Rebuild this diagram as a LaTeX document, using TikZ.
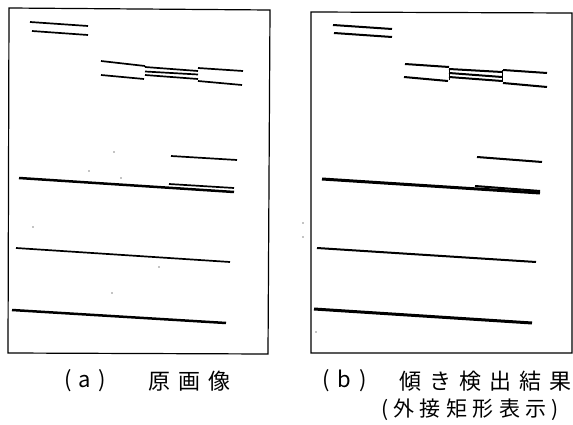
\documentclass[tikz,border=0pt]{standalone}
\usepackage{fontspec}
\newfontfamily\cjk{Noto Sans CJK JP}
\begin{document}
\begin{tikzpicture}[x=1pt,y=-1pt,
  frame/.style={line width=1.2pt},
  seg/.style={line width=1.7pt},
  thickseg/.style={line width=2.5pt},
  bseg/.style={line width=2pt},
  bthick/.style={line width=3pt},
  lbl/.style={inner sep=0pt,anchor=west,font=\cjk\fontsize{22}{24}\selectfont},
  lblsmall/.style={inner sep=0pt,anchor=west,font=\cjk\fontsize{21}{23}\selectfont},
  speck/.style={fill=black,circle,inner sep=0pt,minimum size=1.4pt}]
\useasboundingbox (0,0) rectangle (573,425);
% ---- frames
\coordinate (a1) at (9,8); \coordinate (a2) at (270,10);
\coordinate (a3) at (268,354); \coordinate (a4) at (8,353);
\draw[frame] (a1) -- (a2) -- (a3) -- (a4) -- cycle;
\coordinate (b1) at (311,12); \coordinate (b2) at (572,13);
\coordinate (b3) at (572,353); \coordinate (b4) at (311,353);
\draw[frame] (b1) -- (b2) -- (b3) -- (b4) -- cycle;
% ---- panel (a): original image
\draw[seg] (30,22) -- (88,26);
\draw[seg] (32,31) -- (88,35);
\draw[seg] (101,61) -- (145,66);
\draw[seg] (145,67) -- (198,71);
\draw[seg] (198,68) -- (243,71);
\draw[seg] (145,71.5) -- (198,74.5);
\draw[seg] (145,75) -- (198,79);
\draw[seg] (101,75) -- (144,79);
\draw[seg] (198,81) -- (242,85);
\draw[seg] (171,156) -- (237,160);
\draw[thickseg] (19,178) -- (234,192);
\draw[seg] (169,184) -- (234,188);
\draw[seg] (16,248) -- (230,262);
\draw[thickseg] (12,310) -- (226,323);
\node[speck] (sa1) at (114,152) {};
\node[speck] (sa2) at (89,171) {};
\node[speck] (sa3) at (121,178) {};
\node[speck] (sa4) at (33,227) {};
\node[speck] (sa5) at (159,267) {};
\node[speck] (sa6) at (112,293) {};
\node[speck] (sm1) at (303,223) {};
\node[speck] (sm2) at (303,237) {};
% ---- panel (b): detected inclination (bounding rectangles)
\draw[bseg] (333,25) -- (392,29);
\draw[bseg] (334,33) -- (392,37);
\draw[bseg] (405,64) -- (449,67);
\draw[bseg] (449,69) -- (502,72);
\draw[bseg] (503,70) -- (547,73);
\draw[bseg] (449,73) -- (502,77);
\draw[bseg] (449,77) -- (502,81);
\draw[bseg] (404,77) -- (448,81);
\draw[bseg] (503,83) -- (547,87);
\draw[line width=0.8pt] (502,70) -- (502,82);
\draw[line width=0.8pt] (449,68) -- (449,80);
\draw[bseg] (477,157) -- (542,162);
\draw[bthick] (322,179) -- (540,193);
\draw[bseg] (475,186) -- (540,191);
\draw[bseg] (317,248) -- (536,262);
\draw[bthick] (314,309) -- (532,323);
\node[speck] (sb1) at (316,332) {};
% ---- captions
\node[lbl] (capa) at (64,381) {(\hspace{7pt}a\hspace{7pt})};
\node[lbl] (tita) at (148,381) {原\hspace{8pt}画\hspace{8pt}像};
\node[lbl] (capb) at (322,381) {(\hspace{8pt}b\hspace{8pt})};
\node[lbl] (titb) at (399,381) {傾\hspace{8pt}き\hspace{8pt}検\hspace{8pt}出\hspace{8pt}結\hspace{8pt}果};
\node[lblsmall] (subb) at (381,410) {(\hspace{5pt}外\hspace{5.5pt}接\hspace{5.5pt}矩\hspace{5.5pt}形\hspace{5.5pt}表\hspace{5.5pt}示\hspace{5pt})};
\end{tikzpicture}
\end{document}
